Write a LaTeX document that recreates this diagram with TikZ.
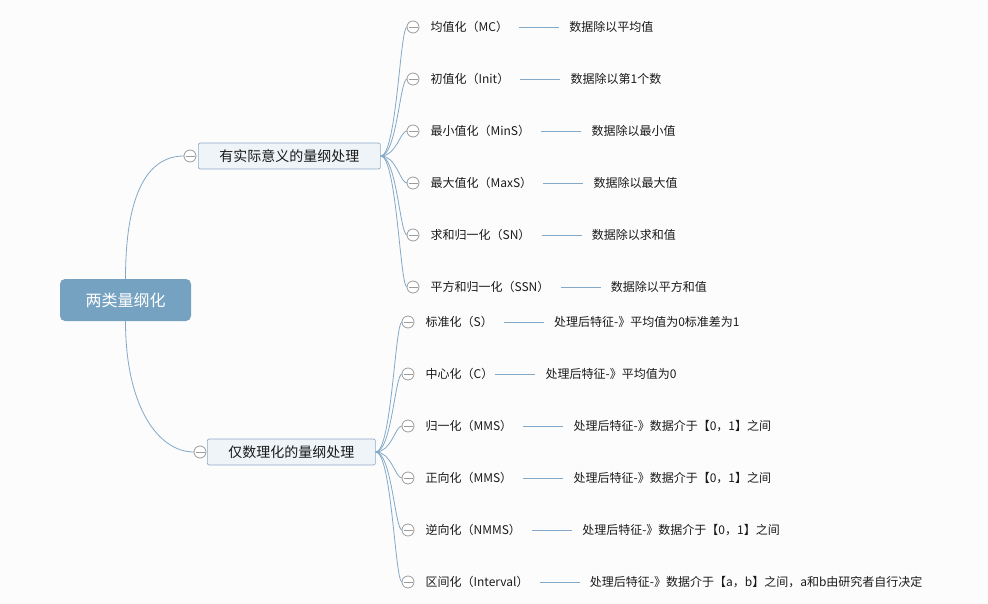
\documentclass[tikz,border=0pt]{standalone}
\usepackage{fontspec}
\setmainfont{Noto Sans CJK SC}
\definecolor{rootc}{HTML}{76A2C1}
\definecolor{brfill}{HTML}{EFF4F8}
\definecolor{brd}{HTML}{8CACC8}
\definecolor{linec}{HTML}{84A9C8}
\definecolor{togc}{HTML}{9C9C9C}
\definecolor{bgc}{HTML}{FCFCFC}
\definecolor{txt}{HTML}{1A1A1A}
\begin{document}
\begin{tikzpicture}[x=1pt,y=-1pt,
  conn/.style={draw=linec, line width=0.8pt},
  rootbox/.style={fill=rootc, rounded corners=5pt, minimum width=131pt, minimum height=42pt, text=white, font=\fontsize{16}{16}\selectfont, inner sep=0},
  branch/.style={draw=brd, fill=brfill, rounded corners=2pt, minimum height=26pt, inner xsep=21pt, inner ysep=0, font=\fontsize{14}{14}\selectfont, line width=0.7pt, anchor=west, text=txt},
  tog/.style={circle, draw=togc, fill=white, minimum size=12pt, inner sep=0, line width=0.8pt,
    path picture={\draw[togc, line width=0.8pt] ([xshift=-4.5pt]path picture bounding box.center) -- ([xshift=4.5pt]path picture bounding box.center);}},
  leaf/.style={anchor=west, inner sep=0, font=\fontsize{12}{12}\selectfont, text=txt},
  desc/.style={anchor=west, inner sep=0, font=\fontsize{12}{12}\selectfont, text=txt},
  tie/.style={draw=linec, line width=0.8pt, shorten >=10pt}
]
\fill[bgc] (0,0) rectangle (988,604);
\path[use as bounding box] (0,0) rectangle (988,604);

\node[rootbox] (root) at (125.5,300) {两类量纲化};
\node[branch] (b1) at (198,156) {有实际意义的量纲处理};
\node[branch] (b2) at (207,452) {仅数理化的量纲处理};

\draw[conn] (root.north) .. controls +(0,-90) and +(-34,0) .. (184,156) coordinate (b1in);
\draw[conn] (root.south) .. controls +(0,85) and +(-36,0) .. (194,452) coordinate (b2in);
\node[tog] (b1c) at (190,156) {};
\node[tog] (b2c) at (200,452) {};

\foreach \i/\y/\g/\t/\d in {
  1/27/11/{均值化（MC）}/{数据除以平均值},
  2/79/11/{初值化（Init）}/{数据除以第1个数},
  3/131/11/{最小值化（MinS）}/{数据除以最小值},
  4/183/11/{最大值化（MaxS）}/{数据除以最大值},
  5/235/11/{求和归一化（SN）}/{数据除以求和值},
  6/287/11/{平方和归一化（SSN）}/{数据除以平方和值}} {
  \draw[conn] (b1.east) .. controls +(16,0) and +(-7,0) .. (407,\y);
  \node[tog] (p\i) at (413,\y) {};
  \node[leaf] (l\i) at ([xshift=11pt]p\i.east) {\t};
  \node[desc] (d\i) at ([xshift=\g pt+50pt]l\i.east) {\d};
  \draw[tie, shorten <=\g pt] (l\i.east) -- (d\i.west);
}

\foreach \i/\y/\g/\t/\d in {
  1/322/11/{标准化（S）}/{处理后特征-》平均值为0标准差为1},
  2/374/2/{中心化（C）}/{处理后特征-》平均值为0},
  3/426/11/{归一化（MMS）}/{处理后特征-》数据介于【0，1】之间},
  4/478/11/{正向化（MMS）}/{处理后特征-》数据介于【0，1】之间},
  5/530/11/{逆向化（NMMS）}/{处理后特征-》数据介于【0，1】之间},
  6/582/11/{区间化（Interval）}/{处理后特征-》数据介于【a，b】之间，a和b由研究者自行决定}} {
  \draw[conn] (b2.east) .. controls +(16,0) and +(-7,0) .. (402,\y);
  \node[tog] (q\i) at (408,\y) {};
  \node[leaf] (m\i) at ([xshift=11pt]q\i.east) {\t};
  \node[desc] (e\i) at ([xshift=\g pt+50pt]m\i.east) {\d};
  \draw[tie, shorten <=\g pt] (m\i.east) -- (e\i.west);
}
\end{tikzpicture}
\end{document}
